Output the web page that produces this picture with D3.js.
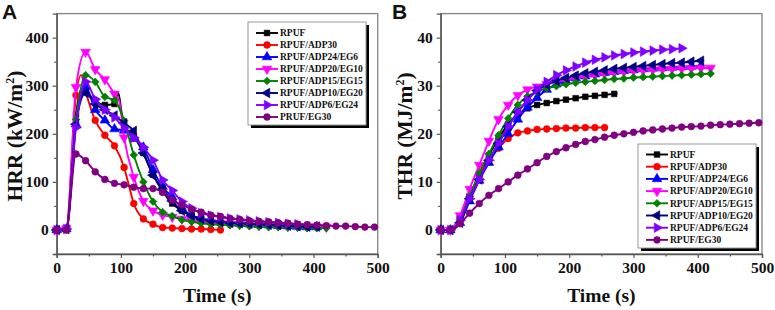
<!DOCTYPE html>
<html><head><meta charset="utf-8">
<script src="https://cdn.jsdelivr.net/npm/d3@7"></script>
<style>body{margin:0;background:#fff} svg{display:block}</style>
</head><body><svg id="c" width="775" height="310"></svg>
<script>
// ---------- DATA ----------
const legendNamesA = ["RPUF","RPUF/ADP30","RPUF/ADP24/EG6","RPUF/ADP20/EG10","RPUF/ADP15/EG15","RPUF/ADP10/EG20","RPUF/ADP6/EG24","PRUF/EG30"];
const legendNamesB = ["RPUF","RPUF/ADP30","RPUF/ADP24/EG6","RPUF/ADP20/EG10","RPUF/ADP15/EG15","RPUF/ADP10/EG20","RPUF/ADP6/EG24","RPUF/EG30"];
const colors = ["#000000","#FF0000","#0000FF","#FF00FF","#008000","#000080","#8000FF","#800080"];
const shapes = ["square","circle","triUp","triDown","diamond","triLeft","triRight","circle"];
const xTicks = [0,100,200,300,400,500];
const xMinor = [50,150,250,350,450];
const hrrTicks = [0,100,200,300,400];
const hrrMinor = [-50,50,150,250,350];
const thrTicks = [0,10,20,30,40];
const thrMinor = [-5,5,15,25,35];

// HRR (kW/m2) : [time s, value]
const hrrRPUF = [[0,0],[15,2],[30,240],[38,290],[45,288],[60,268],[75,260],[90,262],[96,285],[101,245],[105,218],[120,195],[135,160],[150,115],[165,80],[180,55],[195,40],[210,30],[225,24],[240,19],[255,15],[270,12],[275,11]];
const hrrADP30 = [[0,0],[15,3],[30,280],[38,322],[45,288],[60,228],[75,197],[90,175],[105,130],[112,95],[120,55],[135,23],[150,12],[165,5],[180,4],[195,3],[210,2],[225,2],[240,1],[255,0],[260,0]];
const hrrADP24EG6 = [[0,0],[15,2],[30,220],[45,298],[60,250],[75,228],[90,210],[105,207],[120,190],[135,172],[150,125],[165,90],[180,68],[195,46],[210,30],[225,24],[240,20],[255,17],[270,15],[285,13],[300,12],[315,11],[330,10],[345,9],[360,8],[375,7],[390,6],[405,6],[410,6]];
const hrrADP20EG10 = [[0,0],[15,3],[30,297],[45,370],[60,334],[75,313],[90,283],[97,270],[105,192],[120,110],[135,60],[150,40],[165,31],[180,27],[195,23],[210,20],[225,18],[240,16],[255,14],[270,13],[285,12],[300,11],[315,10],[330,9],[345,9],[360,8],[375,8],[390,7],[405,7],[420,6]];
const hrrADP15EG15 = [[0,0],[15,2],[30,230],[45,322],[60,308],[75,277],[90,270],[105,227],[120,156],[135,100],[150,59],[165,37],[180,29],[195,21],[210,17],[225,14],[240,12],[255,11],[270,10],[285,9],[300,8],[315,7],[330,6],[345,6],[360,5],[375,5],[390,4],[405,4],[420,4],[425,4]];
const hrrADP10EG20 = [[0,0],[15,2],[30,220],[45,285],[60,262],[75,250],[90,238],[105,222],[120,206],[135,160],[150,114],[165,85],[180,60],[195,40],[210,30],[225,23],[240,19],[255,17],[270,15],[285,14],[300,13],[315,12],[330,11],[345,10],[360,9],[375,8],[390,7],[405,7],[410,7]];
const hrrADP6EG24 = [[0,0],[15,2],[30,213],[45,308],[60,272],[75,250],[90,234],[105,212],[120,192],[135,172],[150,145],[165,104],[180,82],[195,59],[210,45],[225,35],[240,30],[255,27],[270,24],[285,22],[300,20],[315,18],[330,16],[345,15],[360,13],[375,12],[380,12]];
const hrrEG30 = [[0,0],[15,0],[30,158],[45,144],[60,121],[75,105],[90,97],[105,94],[120,89],[135,86],[150,86],[165,78],[180,62],[195,52],[210,43],[225,37],[240,31],[255,28],[270,24],[285,22],[300,19],[315,18],[330,17],[345,15],[360,14],[375,12],[390,11],[405,10],[420,9],[435,8],[450,8],[465,7],[480,6],[495,6],[500,6]];

// THR (MJ/m2) : [time s, value]
const thrRPUF = [[0,0],[15,0],[30,2.5],[45,7],[60,11.5],[75,15.5],[90,19],[105,22],[120,24],[135,25.3],[150,26],[165,26.4],[180,26.8],[195,27.1],[210,27.4],[225,27.7],[240,27.9],[255,28.1],[270,28.3],[275,28.4]];
const thrADP30 = [[0,0],[15,0],[30,2.5],[45,7],[60,11.5],[75,14.5],[90,17],[105,19],[120,20.2],[135,20.6],[150,20.9],[165,21],[180,21.1],[195,21.2],[210,21.2],[225,21.3],[240,21.3],[255,21.3],[260,21.3]];
const thrADP24EG6 = [[0,0],[15,0],[30,1.5],[45,6],[60,10.3],[75,14],[90,17.2],[105,20],[120,23],[135,25.5],[150,27.5],[165,29.2],[180,30.3],[195,31],[210,31.6],[225,32],[240,32.4],[255,32.7],[270,32.9],[285,33.1],[300,33.3],[315,33.5],[330,33.6],[345,33.7],[360,33.8],[375,33.9],[390,34],[405,34.1],[410,34.1]];
const thrADP20EG10 = [[0,0],[15,0],[30,3],[45,8.5],[60,13.5],[75,18.5],[90,23],[105,26],[120,28],[135,29.2],[150,29.8],[165,30.3],[180,30.8],[195,31.2],[210,31.6],[225,31.9],[240,32.2],[255,32.5],[270,32.7],[285,32.9],[300,33.1],[315,33.2],[330,33.3],[345,33.4],[360,33.5],[375,33.6],[390,33.6],[405,33.7],[420,33.7]];
const thrADP15EG15 = [[0,0],[15,0],[30,2],[45,7],[60,11.8],[75,15.8],[90,19.7],[105,23.2],[120,26],[135,27.8],[150,28.8],[165,29.5],[180,29.9],[195,30.3],[210,30.6],[225,30.8],[240,31],[255,31.2],[270,31.4],[285,31.5],[300,31.7],[315,31.8],[330,31.9],[345,32],[360,32.1],[375,32.2],[390,32.3],[405,32.4],[420,32.5],[425,32.5]];
const thrADP10EG20 = [[0,0],[15,0],[30,1.5],[45,6.5],[60,10.5],[75,14.5],[90,18],[105,21.5],[120,24.5],[135,27],[150,29],[165,30.2],[180,31],[195,31.6],[210,32.1],[225,32.6],[240,32.9],[255,33.2],[270,33.5],[285,33.7],[300,33.9],[315,34.1],[330,34.3],[345,34.5],[360,34.7],[375,34.8],[390,35],[405,35.2],[410,35.3]];
const thrADP6EG24 = [[0,0],[15,0],[30,2],[45,6.5],[60,10.5],[75,14.5],[90,18],[105,21.5],[120,24.5],[135,27],[150,29.2],[165,30.8],[180,32.2],[195,33.2],[210,34],[225,34.8],[240,35.4],[255,35.9],[270,36.3],[285,36.6],[300,36.9],[315,37.1],[330,37.3],[345,37.5],[360,37.6],[375,37.8],[380,37.8]];
const thrEG30 = [[0,0],[15,0],[30,1.3],[45,3.5],[60,5.5],[75,7.2],[90,8.6],[105,10],[120,11.4],[135,12.7],[150,14],[165,15.3],[180,16.3],[195,17.1],[210,17.8],[225,18.4],[240,18.8],[255,19.3],[270,19.7],[285,20],[300,20.3],[315,20.6],[330,20.8],[345,21],[360,21.2],[375,21.4],[390,21.5],[405,21.6],[420,21.8],[435,21.9],[450,22],[465,22.1],[480,22.2],[495,22.3],[500,22.3]];

const hrrSeries = [hrrRPUF,hrrADP30,hrrADP24EG6,hrrADP20EG10,hrrADP15EG15,hrrADP10EG20,hrrADP6EG24,hrrEG30];
const thrSeries = [thrRPUF,thrADP30,thrADP24EG6,thrADP20EG10,thrADP15EG15,thrADP10EG20,thrADP6EG24,thrEG30];

// ---------- DRAW ----------
const svg = d3.select("#c");
const SERIF = "'Liberation Serif','Times New Roman',serif";
const SANS = "'Liberation Sans',Arial,sans-serif";

function symPath(shape){
  const s = shape==="circle"? d3.symbol(d3.symbolCircle,36)
          : shape==="square"? d3.symbol(d3.symbolSquare,32)
          : shape==="diamond"? d3.symbol(d3.symbolSquare,30)
          : d3.symbol(d3.symbolTriangle,40);
  return s();
}
function symRot(shape){
  return {triDown:180, triLeft:-90, triRight:90, diamond:45}[shape]||0;
}
function marker(g, shape, color, x, y){
  g.append("path").attr("d",symPath(shape))
   .attr("transform",`translate(${x},${y}) rotate(${symRot(shape)})`)
   .attr("fill",color).attr("stroke",color).attr("stroke-width",0.6);
}

function panel(opt){
  const x = d3.scaleLinear().domain([0,500]).range([opt.x0,opt.x1]);
  const y = d3.scaleLinear().domain(opt.yDomain).range([254,13.6]);
  const g = svg.append("g");
  g.append("rect").attr("x",opt.x0).attr("y",13.6).attr("width",opt.x1-opt.x0).attr("height",254-13.6)
   .attr("fill","none").attr("stroke","#8a8a8a").attr("stroke-width",1.4);
  g.append("g").attr("transform","translate(0,254)")
    .call(d3.axisBottom(x).tickValues(opt.xTicks).tickSize(4).tickPadding(4).tickFormat(d3.format("d")));
  g.append("g").attr("transform","translate(0,254)")
    .call(d3.axisBottom(x).tickValues(opt.xMinor).tickSize(2.5).tickFormat(""))
    .call(a=>a.select(".domain").remove());
  g.append("g").attr("transform",`translate(${opt.x0},0)`)
    .call(d3.axisLeft(y).tickValues(opt.yTicks).tickSize(4).tickPadding(4).tickFormat(d3.format("d")));
  g.append("g").attr("transform",`translate(${opt.x0},0)`)
    .call(d3.axisLeft(y).tickValues(opt.yMinor).tickSize(2.5).tickFormat(""))
    .call(a=>a.select(".domain").remove());
  g.selectAll(".domain").attr("stroke","#555").attr("stroke-width",1.4);
  g.selectAll(".tick line").attr("stroke","#555").attr("stroke-width",1.2);
  g.selectAll(".tick text").attr("font-family",SERIF).attr("font-weight","bold").attr("font-size",15.5).attr("fill","#111");

  const line = d3.line().x(d=>x(d[0])).y(d=>y(d[1])).curve(d3.curveMonotoneX);
  opt.series.forEach((s,i)=>{
    const sg = g.append("g");
    sg.append("path").datum(s).attr("d",line).attr("fill","none")
      .attr("stroke",colors[i]).attr("stroke-width",1.9).attr("stroke-linejoin","round");
    s.filter(d=>d[0]%15===0).forEach(d=>marker(sg,shapes[i],colors[i],x(d[0]),y(d[1])));
  });

  const L = opt.legend;
  const lg = g.append("g");
  lg.append("rect").attr("x",L.x+3).attr("y",L.y+3).attr("width",L.w).attr("height",L.h).attr("fill","#000");
  lg.append("rect").attr("x",L.x).attr("y",L.y).attr("width",L.w).attr("height",L.h)
    .attr("fill","#fff").attr("stroke","#999").attr("stroke-width",1);
  opt.names.forEach((n,i)=>{
    const ry = L.y + L.first + i*L.step;
    lg.append("line").attr("x1",L.x+8).attr("x2",L.x+30).attr("y1",ry).attr("y2",ry)
      .attr("stroke",colors[i]).attr("stroke-width",1.9);
    marker(lg,shapes[i],colors[i],L.x+19,ry);
    lg.append("text").attr("x",L.x+32).attr("y",ry).attr("dy","0.35em")
      .attr("font-family",SERIF).attr("font-weight","bold").attr("font-size",9.5).attr("fill","#111").text(n);
  });

  svg.append("text").attr("x",(opt.x0+opt.x1)/2).attr("y",302).attr("text-anchor","middle")
    .attr("font-family",SERIF).attr("font-weight","bold").attr("font-size",19.5).attr("fill","#111").text("Time (s)");
  const yt = svg.append("text").attr("transform",`translate(${opt.yTitleX},136) rotate(-90)`).attr("text-anchor","middle")
    .attr("font-family",SERIF).attr("font-weight","bold").attr("font-size",21.5).attr("fill","#111");
  yt.append("tspan").text(opt.yTitle+" (" + opt.yUnit);
  yt.append("tspan").attr("dy",-8).attr("font-size",12).text("2");
  yt.append("tspan").attr("dy",8).text(")");
  svg.append("text").attr("x",opt.labelX).attr("y",19).attr("font-family",SANS).attr("font-weight","bold")
    .attr("font-size",21).attr("fill","#111").text(opt.label);
}

panel({x0:56.7,x1:377.7,yDomain:[-50,450],xTicks,xMinor,yTicks:hrrTicks,yMinor:hrrMinor,
  series:hrrSeries,names:legendNamesA,legend:{x:248,y:22,w:118,h:103,first:11,step:12},
  yTitle:"HRR",yUnit:"kW/m",yTitleX:22,label:"A",labelX:2});
panel({x0:440.7,x1:762,yDomain:[-5,45],xTicks,xMinor,yTicks:thrTicks,yMinor:thrMinor,
  series:thrSeries,names:legendNamesB,legend:{x:638,y:144,w:118,h:104,first:10.5,step:12.2},
  yTitle:"THR",yUnit:"MJ/m",yTitleX:412,label:"B",labelX:392});
</script></body></html>
